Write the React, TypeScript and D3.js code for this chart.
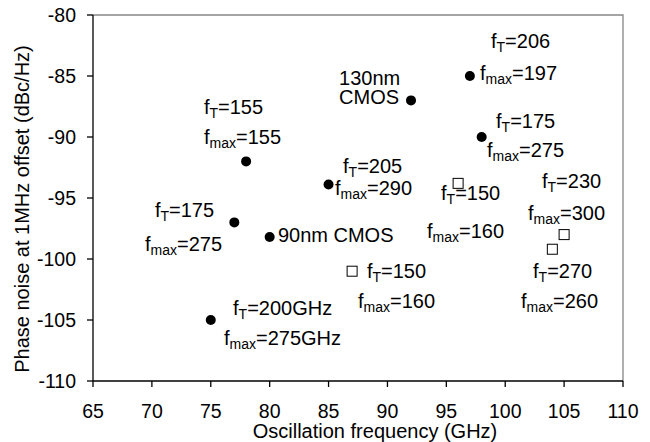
import * as d3 from "d3";

// filled circles: (GHz, dBc/Hz)
const circleFreq = [75, 77, 78, 80, 85, 92, 97, 98];
const circleNoise = [-105, -97, -92, -98.2, -93.9, -87, -85, -90];
// open squares
const squareFreq = [96, 87, 105, 104];
const squareNoise = [-93.8, -101, -98, -99.2];

const xTicks = [65, 70, 75, 80, 85, 90, 95, 100, 105, 110];
const yTicks = [-80, -85, -90, -95, -100, -105, -110];

// annotation text: [prefix, subscript, rest, x, y]
const labels: [string, string, string, number, number][] = [
  ["f", "T", "=155", 74.42, -88.1],
  ["f", "max", "=155", 74.42, -90.57],
  ["f", "T", "=175", 70.26, -96.56],
  ["f", "max", "=275", 69.42, -99.34],
  ["", "", "90nm CMOS", 80.7, -98.6],
  ["f", "T", "=200GHz", 76.89, -104.59],
  ["f", "max", "=275GHz", 76.12, -107.05],
  ["f", "T", "=205", 86.23, -92.95],
  ["f", "max", "=290", 85.55, -94.75],
  ["", "", "130nm", 85.89, -85.74],
  ["", "", "CMOS", 85.89, -87.3],
  ["f", "T", "=206", 98.79, -82.7],
  ["f", "max", "=197", 97.86, -85.33],
  ["f", "T", "=175", 99.22, -89.26],
  ["f", "max", "=275", 98.45, -91.64],
  ["f", "T", "=150", 94.55, -95.16],
  ["f", "max", "=160", 93.36, -98.28],
  ["f", "T", "=230", 103.12, -94.18],
  ["f", "max", "=300", 101.93, -96.8],
  ["f", "T", "=150", 88.26, -101.56],
  ["f", "max", "=160", 87.5, -104.02],
  ["f", "T", "=270", 102.36, -101.56],
  ["f", "max", "=260", 101.34, -104.02],
];

const W = 650;
const H = 442;
const left = 93;
const right = 623;
const top = 15;
const bottom = 381;
const font = "'Liberation Sans', Arial, sans-serif";

export default function App() {
  const x = d3.scaleLinear().domain([65, 110]).range([left, right]);
  const y = d3.scaleLinear().domain([-110, -80]).range([bottom, top]);

  return (
    <svg
      width={W}
      height={H}
      style={{ position: "absolute", left: 0, top: 0, background: "#fff" }}
      fontFamily={font}
    >
      <rect x={0} y={0} width={W} height={H} fill="#fff" />
      {/* plot frame: grey top/right */}
      <path
        d={`M${left},${top}H${right}V${bottom}`}
        fill="none"
        stroke="#868686"
        strokeWidth={1.3}
      />
      {/* axes */}
      <line x1={left} x2={left} y1={top} y2={bottom} stroke="#000" strokeWidth={1.3} />
      <line x1={left} x2={right} y1={bottom} y2={bottom} stroke="#000" strokeWidth={1.3} />
      {yTicks.map((t) => (
        <g key={"y" + t}>
          <line x1={left - 6} x2={left} y1={y(t)} y2={y(t)} stroke="#000" strokeWidth={1.3} />
          <text
            x={76}
            y={y(t)}
            dy="0.36em"
            textAnchor="end"
            fontSize={19.5}
            fill="#000"
          >
            {t}
          </text>
        </g>
      ))}
      {xTicks.map((t) => (
        <g key={"x" + t}>
          <line x1={x(t)} x2={x(t)} y1={bottom} y2={bottom + 6} stroke="#000" strokeWidth={1.3} />
          <text x={x(t)} y={418} textAnchor="middle" fontSize={19.5} fill="#000">
            {t}
          </text>
        </g>
      ))}
      <text x={375} y={437.5} textAnchor="middle" fontSize={20} fill="#000">
        Oscillation frequency (GHz)
      </text>
      <text
        transform={`translate(29,209) rotate(-90)`}
        textAnchor="middle"
        fontSize={20}
        fill="#000"
      >
        Phase noise at 1MHz offset (dBc/Hz)
      </text>

      {circleFreq.map((f, i) => (
        <circle key={"c" + i} cx={x(f)} cy={y(circleNoise[i])} r={5} fill="#000" />
      ))}
      {squareFreq.map((f, i) => (
        <rect
          key={"s" + i}
          x={x(f) - 5}
          y={y(squareNoise[i]) - 5}
          width={10}
          height={10}
          fill="#fff"
          stroke="#000"
          strokeWidth={1}
        />
      ))}

      {labels.map(([a, sub, rest, lx, ly], i) => (
        <text key={"l" + i} x={x(lx)} y={y(ly)} fontSize={20} fill="#000">
          {a}
          {sub && (
            <tspan fontSize={14} dy={4}>
              {sub}
            </tspan>
          )}
          <tspan dy={sub ? -4 : 0}>{rest}</tspan>
        </text>
      ))}
    </svg>
  );
}
